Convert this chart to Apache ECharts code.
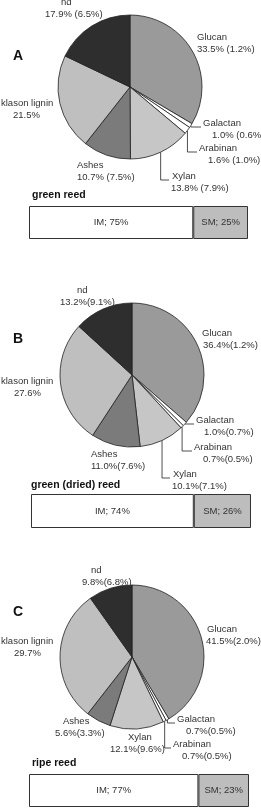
<!DOCTYPE html>
<html><head><meta charset="utf-8">
<script src="https://cdn.jsdelivr.net/npm/echarts@6/dist/echarts.min.js"></script>
<style>html,body{margin:0;padding:0;background:#fff}#c{width:261px;height:808px}</style>
</head><body><div id="c"></div>
<script>
// ---- data ----
const sliceNames = ['Glucan', 'Galactan', 'Arabinan', 'Xylan', 'Ashes', 'klason lignin', 'nd'];
const valuesA = [33.5, 1.0, 1.6, 13.8, 10.7, 21.5, 17.9];
const sdA     = [1.2, 0.6, 1.0, 7.9, 7.5, null, 6.5];
const valuesB = [36.4, 1.0, 0.7, 10.1, 11.0, 27.6, 13.2];
const sdB     = [1.2, 0.7, 0.5, 7.1, 7.6, null, 9.1];
const valuesC = [41.5, 0.7, 0.7, 12.1, 5.6, 29.7, 9.8];
const sdC     = [2.0, 0.5, 0.5, 9.6, 3.3, null, 6.8];
const panelLetters = ['A', 'B', 'C'];
const barTitles = ['green reed', 'green (dried) reed', 'ripe reed'];
const barParts = ['IM', 'SM'];
const barA = [75, 25];
const barB = [74, 26];
const barC = [77, 23];

// ---- style / layout ----
const FONT = 'Liberation Sans, Arial, sans-serif';
const sliceColors = ['#9a9a9a', '#ffffff', '#ffffff', '#c6c6c6', '#7b7b7b', '#bfbfbf', '#2e2e2e'];
const barColors = ['#ffffff', '#bdbdbd'];
// label layout: [x, y, indent line1, indent line2, leader]
const labelPosA = [[197,31,0,0,0],[203,117,0,9,1],[199,142,0,9,1],[171,170,1,0,1],[77,159,0,0,0],[1,97,0,12,0],[45,-4,16,0,0]];
const labelPosB = [[202,327,0,1,0],[196,414,0,8,1],[194,441,0,9,1],[172,468,1,0,1],[91,448,0,0,0],[1,375,0,13,0],[60,284,17,0,0]];
const labelPosC = [[206,623,1,0,0],[177,713,0,9,1],[173,738,0,9,1],[110,731,18,0,0],[55,715,8,0,0],[1,635,0,13,0],[82,564,9,0,0]];
const PIE_R = 72;

const panels = [
  {values: valuesA, sd: sdA, sep: ' ', center: [130, 87], labels: labelPosA, bar: barA,
   grid: {left: 29, top: 206, width: 219, height: 33}, letterTop: 49, titleTop: 190, titleLeft: 32},
  {values: valuesB, sd: sdB, sep: '', center: [132, 375], labels: labelPosB, bar: barB,
   grid: {left: 31, top: 494, width: 220, height: 34}, letterTop: 332, titleTop: 480, titleLeft: 31},
  {values: valuesC, sd: sdC, sep: '', center: [132, 657], labels: labelPosC, bar: barC,
   grid: {left: 29, top: 774, width: 220, height: 33}, letterTop: 605, titleTop: 758, titleLeft: 32}
];

const chart = echarts.init(document.getElementById('c'), null, {renderer: 'canvas'});
const series = [], grids = [], xAxes = [], yAxes = [], titles = [];

panels.forEach((p, i) => {
  const total = p.values.reduce((a, b) => a + b, 0);
  const edgePoint = (k) => {
    let cum = 0; for (let j = 0; j < k; j++) cum += p.values[j];
    const frac = (cum + p.values[k] / 2) / total;
    const ang = frac * 2 * Math.PI;
    return [p.center[0] + PIE_R * Math.sin(ang), p.center[1] - PIE_R * Math.cos(ang)];
  };
  series.push({
    type: 'pie', center: p.center, radius: PIE_R, startAngle: 90, clockwise: true,
    avoidLabelOverlap: false, silent: true, animation: false,
    itemStyle: {borderColor: '#222', borderWidth: 0.8},
    label: {
      show: true, position: 'outside',
      formatter: (prm) => {
        const k = prm.dataIndex;
        const v = p.values[k].toFixed(1) + '%';
        const s = p.sd[k];
        const l2 = s == null ? v : v + p.sep + '(' + s.toFixed(1) + '%)';
        return '{a|' + prm.name + '}\n{b|' + l2 + '}';
      }
    },
    labelLine: {show: false, smooth: false, length: 4, length2: 4, lineStyle: {color: '#222', width: 0.8}},
    labelLayout: (params) => {
      const L = p.labels[params.dataIndex];
      const out = {x: L[0], y: L[1], align: 'left', verticalAlign: 'top'};
      if (L[4]) {
        const p0 = edgePoint(params.dataIndex);
        const my = L[1] + 10;
        out.labelLinePoints = [[p0[0], p0[1]], [p0[0], my], [L[0] - 2, my]];
      }
      return out;
    },
    data: sliceNames.map((n, k) => {
      const L = p.labels[k];
      const tok = (ind) => ({fontSize: 9.5, lineHeight: 12, color: '#333', fontFamily: FONT, padding: [0, 0, 0, ind]});
      return {
        name: n, value: p.values[k],
        itemStyle: {color: sliceColors[k]},
        label: {rich: {a: tok(L[2]), b: tok(L[3])}},
        labelLine: {show: !!L[4], smooth: false, lineStyle: {color: '#222', width: 0.8}}
      };
    })
  });

  grids.push(Object.assign({containLabel: false}, p.grid));
  xAxes.push({type: 'value', gridIndex: i, min: 0, max: 100, show: false});
  yAxes.push({type: 'category', gridIndex: i, data: ['r'], show: false});
  barParts.forEach((bp, j) => {
    series.push({
      type: 'bar', xAxisIndex: i, yAxisIndex: i, stack: 's' + i, barWidth: '100%',
      silent: true, animation: false,
      data: [p.bar[j]],
      itemStyle: {color: barColors[j], borderColor: '#333', borderWidth: 1},
      label: {show: true, position: 'inside', formatter: bp + '; ' + p.bar[j] + '%',
              color: '#333', fontSize: 9.5, fontFamily: FONT, textBorderWidth: 0}
    });
  });

  titles.push({text: panelLetters[i], left: 13, top: p.letterTop, padding: 0,
    textStyle: {fontSize: 14, fontWeight: 'bold', color: '#111', fontFamily: FONT}});
  titles.push({text: barTitles[i], left: p.titleLeft, top: p.titleTop, padding: 0,
    textStyle: {fontSize: 10.5, fontWeight: 'bold', color: '#111', fontFamily: FONT}});
});

chart.setOption({
  animation: false,
  backgroundColor: '#fff',
  title: titles,
  grid: grids, xAxis: xAxes, yAxis: yAxes,
  series: series
});
</script>
</body></html>
